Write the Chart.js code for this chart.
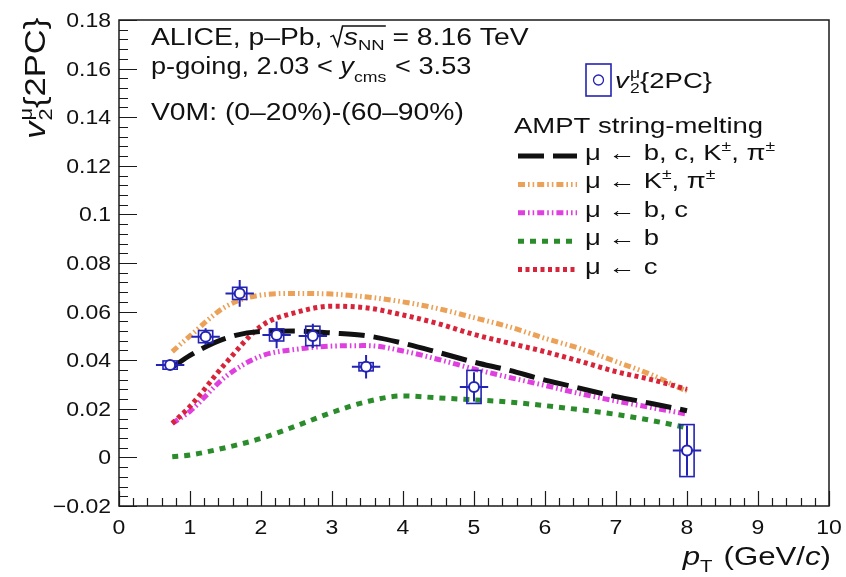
<!DOCTYPE html>
<html>
<head>
<meta charset="utf-8">
<script src="https://cdn.jsdelivr.net/npm/chart.js@4"></script>
<style>
  html, body { margin: 0; padding: 0; background: #fff; }
  #wrap { width: 846px; height: 577px; }
</style>
</head>
<body>
<div id="wrap"><canvas id="chart" width="846" height="577"></canvas></div>
<script>
/* === DATA === */
// ALICE v2 of muons, p-Pb 8.16 TeV
const dataPt    = [0.72, 1.22, 1.70, 2.22, 2.73, 3.48, 5.0, 8.0];
const dataV2    = [0.0380, 0.0497, 0.0675, 0.0504, 0.0500, 0.0373, 0.0290, 0.0028];
const dataStat  = [0.0020, 0.0034, 0.0055, 0.0055, 0.0050, 0.0048, 0.0060, 0.0103];
const dataSyst  = [0.0017, 0.0025, 0.0025, 0.0025, 0.0040, 0.0017, 0.0068, 0.0107];
const dataPtErr = [0.2, 0.2, 0.2, 0.2, 0.2, 0.2, 0.2, 0.2];

// AMPT string-melting curves
const modelPt = [0.75, 1, 1.5, 2, 2.5, 3, 3.5, 4, 4.5, 5, 5.5, 6, 6.5, 7, 7.5, 8];
const amptAll = [0.0370, 0.0420, 0.0490, 0.0518, 0.0520, 0.0512, 0.0500, 0.0470, 0.0432, 0.0392, 0.0358, 0.0318, 0.0284, 0.0250, 0.0222, 0.0192];
const amptKPi = [0.0435, 0.0500, 0.0620, 0.0668, 0.0675, 0.0672, 0.0660, 0.0640, 0.0612, 0.0575, 0.0537, 0.0490, 0.0447, 0.0394, 0.0340, 0.0272];
const amptBC  = [0.0140, 0.0190, 0.0332, 0.0417, 0.0445, 0.0458, 0.0460, 0.0438, 0.0403, 0.0364, 0.0329, 0.0296, 0.0262, 0.0232, 0.0205, 0.0178];
const amptB   = [0.0003, 0.0010, 0.0040, 0.0078, 0.0130, 0.0185, 0.0230, 0.0253, 0.0245, 0.0237, 0.0228, 0.0213, 0.0196, 0.0177, 0.0152, 0.0122];
const amptC   = [0.0140, 0.0210, 0.0387, 0.0540, 0.0597, 0.0622, 0.0615, 0.0586, 0.0550, 0.0506, 0.0470, 0.0435, 0.0395, 0.0353, 0.0320, 0.0280];

const xTicks = [0, 1, 2, 3, 4, 5, 6, 7, 8, 9, 10];
const yTicks = [-0.02, 0, 0.02, 0.04, 0.06, 0.08, 0.1, 0.12, 0.14, 0.16, 0.18];

/* === TEXT HELPERS === */
const FONT = '"Liberation Sans", Arial, Helvetica, sans-serif';
const SX = 1.23;       // horizontal stretch of the reference text
const BLUE = "#2323b4";

function font(size, it) {
    return (it ? "italic " : "") + size + "px " + FONT;
}

// segments: {t, size, it, dy, stack, pad}
function segWidth(ctx, segs) {
    let w = 0, hold = 0;
    segs.forEach(s => {
        ctx.font = font(s.size, s.it);
        const m = ctx.measureText(s.t).width + (s.pad || 0);
        if (s.stack) hold = Math.max(hold, m);
        else { w += Math.max(m, hold); hold = 0; }
    });
    return w + hold;
}

function drawSegs(ctx, x, y, segs, sx, align) {
    ctx.save();
    ctx.translate(x, y);
    ctx.scale(sx, 1);
    ctx.textBaseline = "alphabetic";
    ctx.textAlign = "left";
    const w = segWidth(ctx, segs);
    let cx = align === "right" ? -w : align === "center" ? -w / 2 : 0;
    let hold = 0, radX = null, ovEnd = null;
    segs.forEach(s => {
        ctx.font = font(s.size, s.it);
        if (s.rad) radX = cx;
        ctx.fillText(s.t, cx + (s.pad && s.rad ? s.pad : 0), s.dy || 0);
        const m = ctx.measureText(s.t).width + (s.pad || 0);
        if (s.stack) hold = Math.max(hold, m);
        else { cx += Math.max(m, hold); hold = 0; }
        if (s.ov) ovEnd = cx;
    });
    if (radX !== null) {
        // radical sign with overline
        ctx.strokeStyle = ctx.fillStyle;
        ctx.lineWidth = 1.3;
        ctx.beginPath();
        ctx.moveTo(radX, -8);
        ctx.lineTo(radX + 2.5, -9.5);
        ctx.lineTo(radX + 6, 1);
        ctx.lineTo(radX + 10, -19);
        ctx.lineTo(ovEnd + 1, -19);
        ctx.stroke();
    }
    ctx.restore();
}

/* === PLUGIN: frame, ticks, error bars, texts === */
const decorations = {
    id: "decorations",
    beforeDatasetDraw(chart, args) {
        if (args.meta.type !== "scatter") return;
        const { ctx, scales: { x, y } } = chart;
        ctx.save();
        ctx.strokeStyle = BLUE;
        dataPt.forEach((pt, i) => {
            const px = x.getPixelForValue(pt);
            const py = y.getPixelForValue(dataV2[i]);
            // systematic box
            const bx0 = x.getPixelForValue(pt - 0.1), bx1 = x.getPixelForValue(pt + 0.1);
            const by0 = y.getPixelForValue(dataV2[i] + dataSyst[i]), by1 = y.getPixelForValue(dataV2[i] - dataSyst[i]);
            ctx.lineWidth = 1.6;
            ctx.strokeRect(bx0, by0, bx1 - bx0, by1 - by0);
            // statistical bars
            ctx.lineWidth = 2;
            ctx.beginPath();
            ctx.moveTo(px, y.getPixelForValue(dataV2[i] + dataStat[i]));
            ctx.lineTo(px, y.getPixelForValue(dataV2[i] - dataStat[i]));
            ctx.moveTo(x.getPixelForValue(pt - dataPtErr[i]), py);
            ctx.lineTo(x.getPixelForValue(pt + dataPtErr[i]), py);
            ctx.stroke();
        });
        ctx.restore();
    },
    afterDraw(chart) {
        const { ctx, chartArea: a, scales: { x, y } } = chart;
        ctx.save();

        // frame
        ctx.strokeStyle = "#1a1a1a";
        ctx.lineWidth = 1.5;
        ctx.strokeRect(a.left, a.top, a.right - a.left, a.bottom - a.top);

        // ticks (inside)
        ctx.lineWidth = 1.2;
        ctx.beginPath();
        for (let k = 0; k <= 50; k++) {
            const v = -0.02 + k * 0.004;
            const py = Math.round(y.getPixelForValue(v)) + 0.5;
            ctx.moveTo(a.left, py);
            ctx.lineTo(a.left + (k % 5 === 0 ? 18 : 9), py);
        }
        for (let k = 0; k <= 50; k++) {
            const px = Math.round(x.getPixelForValue(k * 0.2)) + 0.5;
            ctx.moveTo(px, a.bottom);
            ctx.lineTo(px, a.bottom - (k % 5 === 0 ? 15 : 8));
        }
        ctx.stroke();

        // tick labels
        ctx.fillStyle = "#111";
        yTicks.forEach(v => {
            const r = Math.round(v * 100) / 100;
            const s = r === 0 ? "0" : String(r).replace("-", "\u2212");
            drawSegs(ctx, 111, y.getPixelForValue(v) + 7, [{ t: s, size: 20 }], 1.15, "right");
        });
        xTicks.forEach(v => {
            drawSegs(ctx, x.getPixelForValue(v), 534, [{ t: String(v), size: 20 }], 1.15, "center");
        });

        // axis titles
        drawSegs(ctx, 831, 565, [
            { t: "p", size: 26, it: true },
            { t: "T", size: 17, dy: 7, pad: 2 },
            { t: " (GeV/", size: 26 },
            { t: "c", size: 26, it: true },
            { t: ")", size: 26 },
        ], 1.2, "right");

        ctx.save();
        ctx.translate(45, 139);
        ctx.rotate(-Math.PI / 2);
        drawSegs(ctx, 0, 0, [
            { t: "v", size: 30, it: true, pad: 1 },
            { t: "2", size: 19, dy: 7, stack: true },
            { t: "\u03bc", size: 19, dy: -13 },
            { t: "{2PC}", size: 30 },
        ], 1.15, "left");
        ctx.restore();

        // header text
        drawSegs(ctx, 151, 45, [
            { t: "ALICE, p\u2013Pb, ", size: 23 },
            { t: "", size: 23, rad: true, pad: 11 },
            { t: "s", size: 23, it: true, ov: true },
            { t: "NN", size: 15, dy: 5, ov: true },
            { t: " = 8.16 TeV", size: 23 },
        ], SX, "left");
        drawSegs(ctx, 151, 74, [
            { t: "p-going, 2.03 < ", size: 23 },
            { t: "y", size: 23, it: true },
            { t: "cms", size: 15, dy: 8, pad: 1 },
            { t: " < 3.53", size: 23 },
        ], 1.18, "left");
        drawSegs(ctx, 151, 120, [{ t: "V0M: (0\u201320%)-(60\u201390%)", size: 23 }], SX, "left");

        // legend: data
        ctx.strokeStyle = BLUE;
        ctx.lineWidth = 1.6;
        ctx.strokeRect(586, 64, 25, 32);
        ctx.lineWidth = 1.3;
        ctx.beginPath();
        ctx.arc(598.5, 80, 5, 0, Math.PI * 2);
        ctx.stroke();
        drawSegs(ctx, 615, 88, [
            { t: "v", size: 22, it: true, pad: 1 },
            { t: "2", size: 14, dy: 5, stack: true },
            { t: "\u03bc", size: 14, dy: -10 },
            { t: "{2PC}", size: 22 },
        ], 1.25, "left");

        // legend: model
        drawSegs(ctx, 514, 133, [{ t: "AMPT string-melting", size: 22 }], 1.25, "left");
        const legendRows = [
            [{ t: "\u03bc \u2190 b, c, K", size: 22 }, { t: "\u00b1", size: 14, dy: -9 }, { t: ", \u03c0", size: 22 }, { t: "\u00b1", size: 14, dy: -9 }],
            [{ t: "\u03bc \u2190 K", size: 22 }, { t: "\u00b1", size: 14, dy: -9 }, { t: ", \u03c0", size: 22 }, { t: "\u00b1", size: 14, dy: -9 }],
            [{ t: "\u03bc \u2190 b, c", size: 22 }],
            [{ t: "\u03bc \u2190 b", size: 22 }],
            [{ t: "\u03bc \u2190 c", size: 22 }],
        ];
        const models = chart.data.datasets.filter(d => d.type !== "scatter");
        models.forEach((ds, i) => {
            const base = 160 + i * 28.4;
            ctx.save();
            ctx.strokeStyle = ds.borderColor;
            ctx.lineWidth = ds.borderWidth;
            ctx.setLineDash(ds.borderDash);
            ctx.beginPath();
            ctx.moveTo(518, base - 4);
            ctx.lineTo(577, base - 4);
            ctx.stroke();
            ctx.restore();
            drawSegs(ctx, 585, base, legendRows[i], 1.25, "left");
        });

        ctx.restore();
    }
};

/* === CHART === */
function toXY(arr) {
    return modelPt.map((pt, i) => ({ x: pt, y: arr[i] }));
}

function curve(data, color, dash, order) {
    return {
        type: "line",
        data: toXY(data),
        borderColor: color,
        borderWidth: 5,
        borderDash: dash,
        borderCapStyle: "butt",
        pointRadius: 0,
        fill: false,
        cubicInterpolationMode: "monotone",
        order,
    };
}

const ctx = document.getElementById("chart");
new Chart(ctx, {
    data: {
        datasets: [
            curve(amptAll, "#111111", [26, 9], 1),
            curve(amptKPi, "#eba157", [7, 3, 1.6, 3, 1.6, 3], 4),
            curve(amptBC, "#e03fe0", [7, 3, 1.6, 3, 1.6, 3], 3),
            curve(amptB, "#2b8c2b", [6, 6], 5),
            curve(amptC, "#d8243a", [4, 3.5], 2),
            {
                type: "scatter",
                data: dataPt.map((pt, i) => ({ x: pt, y: dataV2[i] })),
                pointStyle: "circle",
                pointRadius: 5,
                pointBorderWidth: 2,
                borderColor: BLUE,
                backgroundColor: "#ffffff",
                showLine: false,
                order: 0,
            },
        ],
    },
    options: {
        responsive: false,
        animation: false,
        devicePixelRatio: 1,
        layout: { padding: { top: 20, right: 17, left: 0, bottom: 0 } },
        plugins: { legend: { display: false }, tooltip: { enabled: false } },
        scales: {
            x: {
                type: "linear",
                min: 0, max: 10,
                grid: { display: false, drawTicks: false },
                border: { display: false },
                ticks: { display: false, stepSize: 1 },
                afterFit: s => { s.height = 71; },
            },
            y: {
                type: "linear",
                min: -0.02, max: 0.18,
                grid: { display: false, drawTicks: false },
                border: { display: false },
                ticks: { display: false, stepSize: 0.02 },
                afterFit: s => { s.width = 119; },
            },
        },
    },
    plugins: [decorations],
});
</script>
</body>
</html>
